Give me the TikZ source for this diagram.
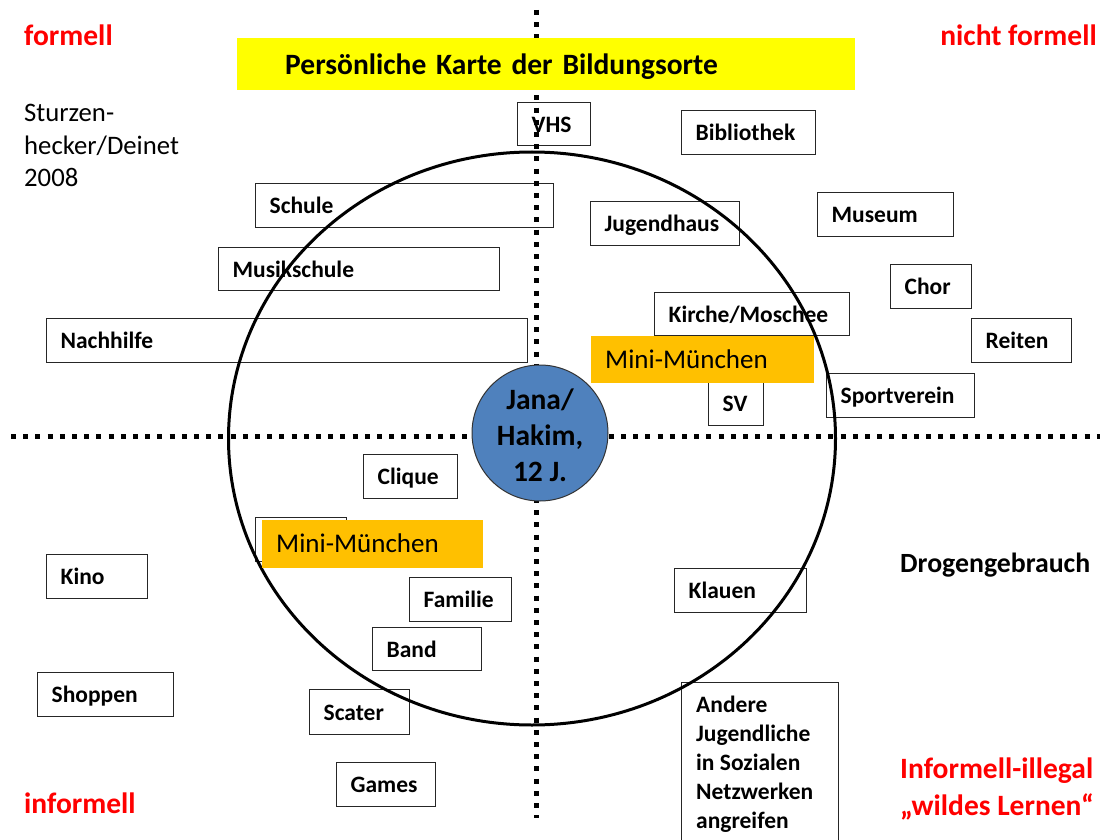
\documentclass[tikz,border=0pt]{standalone}
\usepackage{fontspec}
\setmainfont{Carlito}
\usetikzlibrary{shapes.geometric}
\definecolor{titleyellow}{HTML}{FFFF00}
\definecolor{miniorange}{HTML}{FFC000}
\definecolor{kidblue}{HTML}{4F81BD}
\definecolor{labelred}{HTML}{FF0000}
\begin{document}
\begin{tikzpicture}[x=1pt,y=-1pt,
  place/.style={draw=black!85, line width=1.3pt, fill=white, anchor=north west,
    inner xsep=14pt, inner ysep=0pt, align=left, text height=17.5pt, text depth=1.5pt,
    font=\bfseries\fontsize{23.5}{28}\selectfont},
  frame/.style={draw=black!85, line width=1.3pt, fill=white, anchor=north west, inner sep=0pt},
  mini/.style={fill=miniorange, anchor=north west, inner xsep=14pt, inner ysep=0pt,
    align=left, text height=18.5pt, text depth=1.5pt, font=\fontsize{27}{32}\selectfont},
  quadrant/.style={text=labelred, inner sep=0pt, font=\bfseries\fontsize{29.5}{37}\selectfont},
  dotline/.style={line width=5pt, dash pattern=on 5pt off 7.2pt, line cap=butt},
  ring/.style={draw=black, line width=3pt, ellipse, inner sep=0pt},
  kid/.style={circle, draw=black!80, line width=1pt, fill=kidblue, inner sep=0pt,
    minimum size=136pt, text height=25.2pt, text depth=73pt,
    font=\bfseries\fontsize{29.5}{36}\selectfont}
]
\useasboundingbox (0,0) rectangle (1101,840);

% places of learning
\node[place, text width=45pt,  minimum height=43pt] (vhs)        at (517,102) {VHS};
\node[place, text width=106pt, minimum height=44pt] (bibliothek) at (681,110) {Bibliothek};
\node[place, text width=270pt, minimum height=44pt] (schule)     at (255,183) {Schule};
\node[place, text width=121pt, minimum height=44pt] (jugendhaus) at (590,201) {Jugendhaus};
\node[place, text width=108pt, minimum height=44pt] (museum)     at (817,192) {Museum};
\node[place, text width=253pt, minimum height=43pt] (musik)      at (218,247) {Musikschule};
\node[place, text width=53pt,  minimum height=44pt] (chor)       at (890,264) {Chor};
\node[place, text width=167pt, minimum height=43pt] (kirche)     at (654,292) {Kirche/Moschee};
\node[place, text width=453pt, minimum height=44pt] (nachhilfe)  at (46,318)  {Nachhilfe};
\node[place, text width=72pt,  minimum height=44pt] (reiten)     at (971,318) {Reiten};
\node[place, text width=27pt,  minimum height=44pt] (sv)         at (708,381) {SV};
\node[place, text width=120pt, minimum height=44pt] (sportverein) at (826,373) {Sportverein};
\node[place, text width=66pt,  minimum height=44pt] (clique)     at (363,454) {Clique};
\node[frame, minimum width=91pt, minimum height=44pt] (covered)  at (255,517) {};
\node[place, text width=73pt,  minimum height=44pt] (kino)       at (46,554)  {Kino};
\node[place, text width=74pt,  minimum height=44pt] (familie)    at (409,577) {Familie};
\node[place, text width=104pt, minimum height=44pt] (klauen)     at (674,568) {Klauen};
\node[place, text width=81pt,  minimum height=43pt] (band)       at (372,627) {Band};
\node[place, text width=108pt, minimum height=44pt] (shoppen)    at (37,672)  {Shoppen};
\node[place, text width=72pt,  minimum height=45pt] (scater)     at (309,689) {Scater};
\node[place, text width=71pt,  minimum height=44pt] (games)      at (336,762) {Games};
\node[frame, minimum width=157pt, minimum height=175pt] (andere) at (681,682) {};
\node[anchor=base west, inner sep=0pt, font=\bfseries\fontsize{23.5}{29}\selectfont] (anderetext) at (696,712)
  {\begin{tabular}[t]{@{}l@{}}Andere\\Jugendliche\\in Sozialen\\Netzwerken\\angreifen\end{tabular}};

% quadrant axes
\coordinate (axistop) at (536,10);
\coordinate (axisbottom) at (536,818);
\coordinate (axisleft) at (11,436);
\coordinate (axisright) at (1100,436);
\draw[dotline] (axistop) -- (axisbottom);
\draw[dotline] (axisleft) -- (axisright);

% title
\node[fill=titleyellow, anchor=north west, inner xsep=48pt, inner ysep=0pt, align=left,
  text width=522pt, minimum height=52pt, text height=21pt, text depth=1pt,
  font=\bfseries\fontsize{29.5}{35}\selectfont] (title) at (237,38) {Persönliche Karte der Bildungsorte};

% inner circle of places
\node[ring, minimum width=607pt, minimum height=573pt] (circlezone) at (532,438.5) {};

% Mini-München
\node[mini, text width=195pt, minimum height=47pt] (miniup)  at (591,336) {Mini-München};
\node[mini, text width=193pt, minimum height=48pt] (minilow) at (262,520) {Mini-München};

% the young person in the centre
\node[kid] (kid) at (540,433) {\begin{tabular}[t]{@{}c@{}}Jana/\\Hakim,\\12 J.\end{tabular}};

% quadrant labels
\node[quadrant, anchor=base west] (formell) at (24,46) {formell};
\node[quadrant, anchor=base east] (nichtformell) at (1097,46) {nicht formell};
\node[quadrant, anchor=base west] (informell) at (24,813) {informell};
\node[quadrant, anchor=base west] (illegal) at (900,778)
  {\begin{tabular}[t]{@{}l@{}}Informell-illegal\\„wildes Lernen“\end{tabular}};

% other texts
\node[anchor=base west, inner sep=0pt, font=\fontsize{26.7}{32.5}\selectfont] (source) at (24,122)
  {\begin{tabular}[t]{@{}l@{}}Sturzen-\\hecker/Deinet\\2008\end{tabular}};
\node[anchor=base west, inner sep=0pt, font=\bfseries\fontsize{27.8}{33}\selectfont] (drogen) at (900,572) {Drogengebrauch};
\end{tikzpicture}
\end{document}
